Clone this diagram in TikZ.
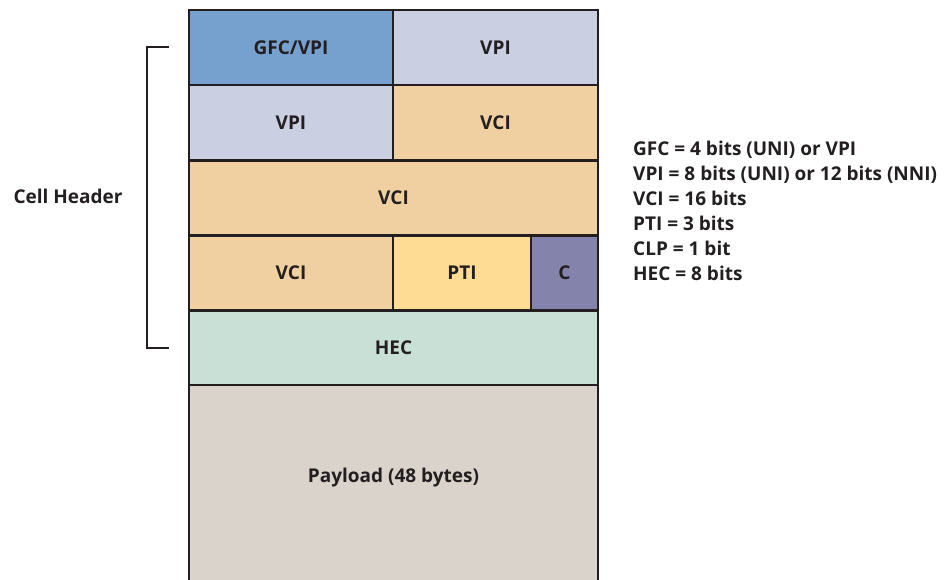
\documentclass[tikz,border=0pt]{standalone}
\usepackage{fontspec}
\setmainfont{Open Sans}
\definecolor{ink}{HTML}{231F20}
\definecolor{gfcblue}{HTML}{76A1CF}
\definecolor{vpilav}{HTML}{CBCFE2}
\definecolor{vcitan}{HTML}{F0D0A0}
\definecolor{ptiyel}{HTML}{FEDC93}
\definecolor{clpvio}{HTML}{8383AB}
\definecolor{hecgrn}{HTML}{C9E0D6}
\definecolor{paygry}{HTML}{DAD3CC}
\tikzset{
  field/.style={draw=ink, line width=2.6pt, inner sep=0pt, font=\fontsize{19}{22}\selectfont\bfseries, text=ink},
  lbl/.style={font=\fontsize{19}{22}\selectfont\bfseries, text=ink, inner sep=0pt}
}
\begin{document}
\begin{tikzpicture}[x=1pt,y=-1pt]
\useasboundingbox (0,0) rectangle (946,579);
% payload (runs off the bottom edge)
\fill[paygry] (189,385) rectangle (598,585);
\node[lbl] (pay) at (393.5,478) {Payload (48 bytes)};
\draw[ink, line width=2.6pt] (189,385) -- (189,585) (598,385) -- (598,585);
% header fields
\node[field, fill=gfcblue, minimum width=204pt, minimum height=75pt] (gfc) at (291,47.5) {GFC/VPI};
\node[field, fill=vpilav, minimum width=205pt, minimum height=75pt] (vpia) at (495.5,47.5) {VPI};
\node[field, fill=vpilav, minimum width=204pt, minimum height=75pt] (vpib) at (291,122.5) {VPI};
\node[field, fill=vcitan, minimum width=205pt, minimum height=75pt] (vcia) at (495.5,122.5) {VCI};
\node[field, fill=vcitan, minimum width=409pt, minimum height=75pt] (vcib) at (393.5,198) {VCI};
\node[field, fill=vcitan, minimum width=204pt, minimum height=75pt] (vcic) at (291,273) {VCI};
\node[field, fill=ptiyel, minimum width=138pt, minimum height=75pt] (pti) at (462,273) {PTI};
\node[field, fill=clpvio, minimum width=67pt, minimum height=75pt] (clp) at (564.5,273) {C};
\node[field, fill=hecgrn, minimum width=409pt, minimum height=74pt] (hec) at (393.5,348) {HEC};
% header bracket
\coordinate (bt) at (169,47);
\coordinate (bb) at (169,348);
\draw[ink, line width=2pt] (bt) -- (147,47) -- (147,348) -- (bb);
\node[lbl, anchor=base] (cellhdr) at (68,203.5) {Cell Header};
% field widths (anchored on the baseline of the last line)
\node[lbl, anchor=base west, align=left, font=\fontsize{19}{25}\selectfont\bfseries] (legend) at (633,280) {%
GFC = 4 bits (UNI) or VPI\\
VPI = 8 bits (UNI) or 12 bits (NNI)\\
VCI = 16 bits\\
PTI = 3 bits\\
CLP = 1 bit\\
HEC = 8 bits};
\end{tikzpicture}
\end{document}
